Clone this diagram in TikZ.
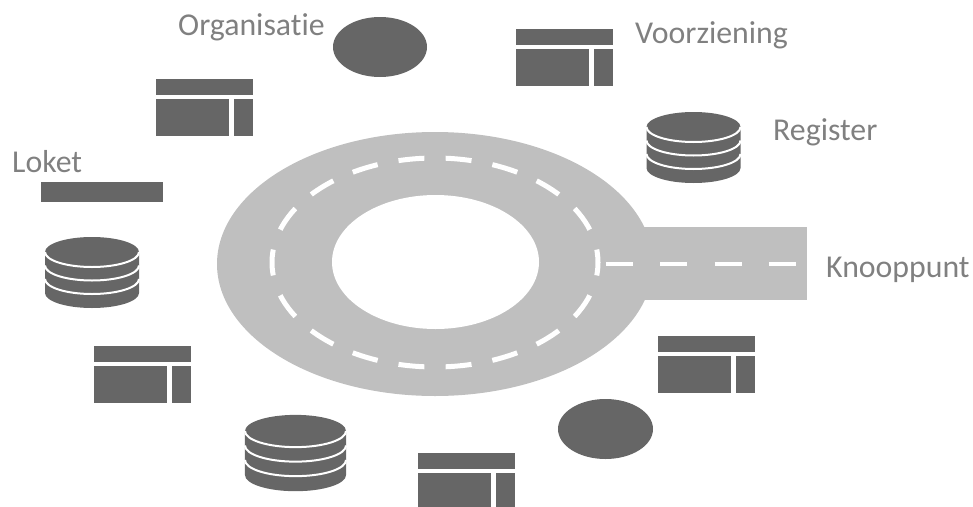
\documentclass[tikz,border=0pt]{standalone}
\usepackage{fontspec}
\setmainfont[Ligatures=NoCommon]{Carlito}
\definecolor{road}{HTML}{BFBFBF}
\definecolor{icon}{HTML}{666666}
\definecolor{labelgrey}{HTML}{808080}

\tikzset{
  lbl/.style={anchor=base west, inner sep=0pt, text=labelgrey,
    font=\fontsize{31.8}{38}\selectfont},
  % application window: title bar over a main pane and a side pane
  window/.pic={
    \fill[icon] (0,0) rectangle (97,16);
    \fill[icon] (0,19.5) rectangle (73,57);
    \fill[icon] (77.5,19.5) rectangle (97,57);
  },
  % database cylinder, origin at the centre of the top disk
  database/.pic={
    \fill[icon] (-47,0) -- (-47,41)
      arc[start angle=180, end angle=360, x radius=47pt, y radius=15pt]
      -- (47,0)
      arc[start angle=0, end angle=180, x radius=47pt, y radius=15pt] -- cycle;
    \foreach \d in {0,13.5,27}
      \draw[white, line width=2pt] (-47,\d)
        arc[start angle=180, end angle=360, x radius=47pt, y radius=15pt];
  }
}

\begin{document}
\begin{tikzpicture}[x=1pt, y=-1pt]
\useasboundingbox (0,0) rectangle (973,506);

% roundabout with its exit road
\fill[road] (435,264) ellipse [x radius=218pt, y radius=132pt];
\fill[road] (590,227) rectangle (807,300);
\fill[white] (435.5,262) ellipse [x radius=103.5pt, y radius=67pt];
\draw[white, line width=5pt, dash pattern=on 26pt off 21.25pt, dash phase=13pt]
  (435,262.5) ellipse [x radius=163pt, y radius=104.5pt];
\coordinate (laneA) at (606,264);
\coordinate (laneB) at (797,264);
\draw[white, line width=4pt, dash pattern=on 27pt off 27.3pt] (laneA) -- (laneB);

% organisations
\fill[icon] (380,47) ellipse [x radius=47pt, y radius=30pt];
\fill[icon] (605.5,429) ellipse [x radius=47.5pt, y radius=30pt];

% counter
\fill[icon] (41,182) rectangle (163,202);

% services
\pic at (156,79) {window};
\pic at (516,29) {window};
\pic at (94,346) {window};
\pic at (658,336) {window};
\pic at (418,453) {window};

% registers
\pic at (693.5,127) {database};
\pic at (92,252) {database};
\pic[scale=1.075] at (295.5,431) {database};

% labels
\node[lbl] (org) at (178,35) {Organisatie};
\node[lbl] (voo) at (635,43) {Voorziening};
\node[lbl] (reg) at (773,140) {Register};
\node[lbl] (lok) at (12,172) {Loket};
\node[lbl] (kno) at (826,277) {Knooppunt};
\end{tikzpicture}
\end{document}
